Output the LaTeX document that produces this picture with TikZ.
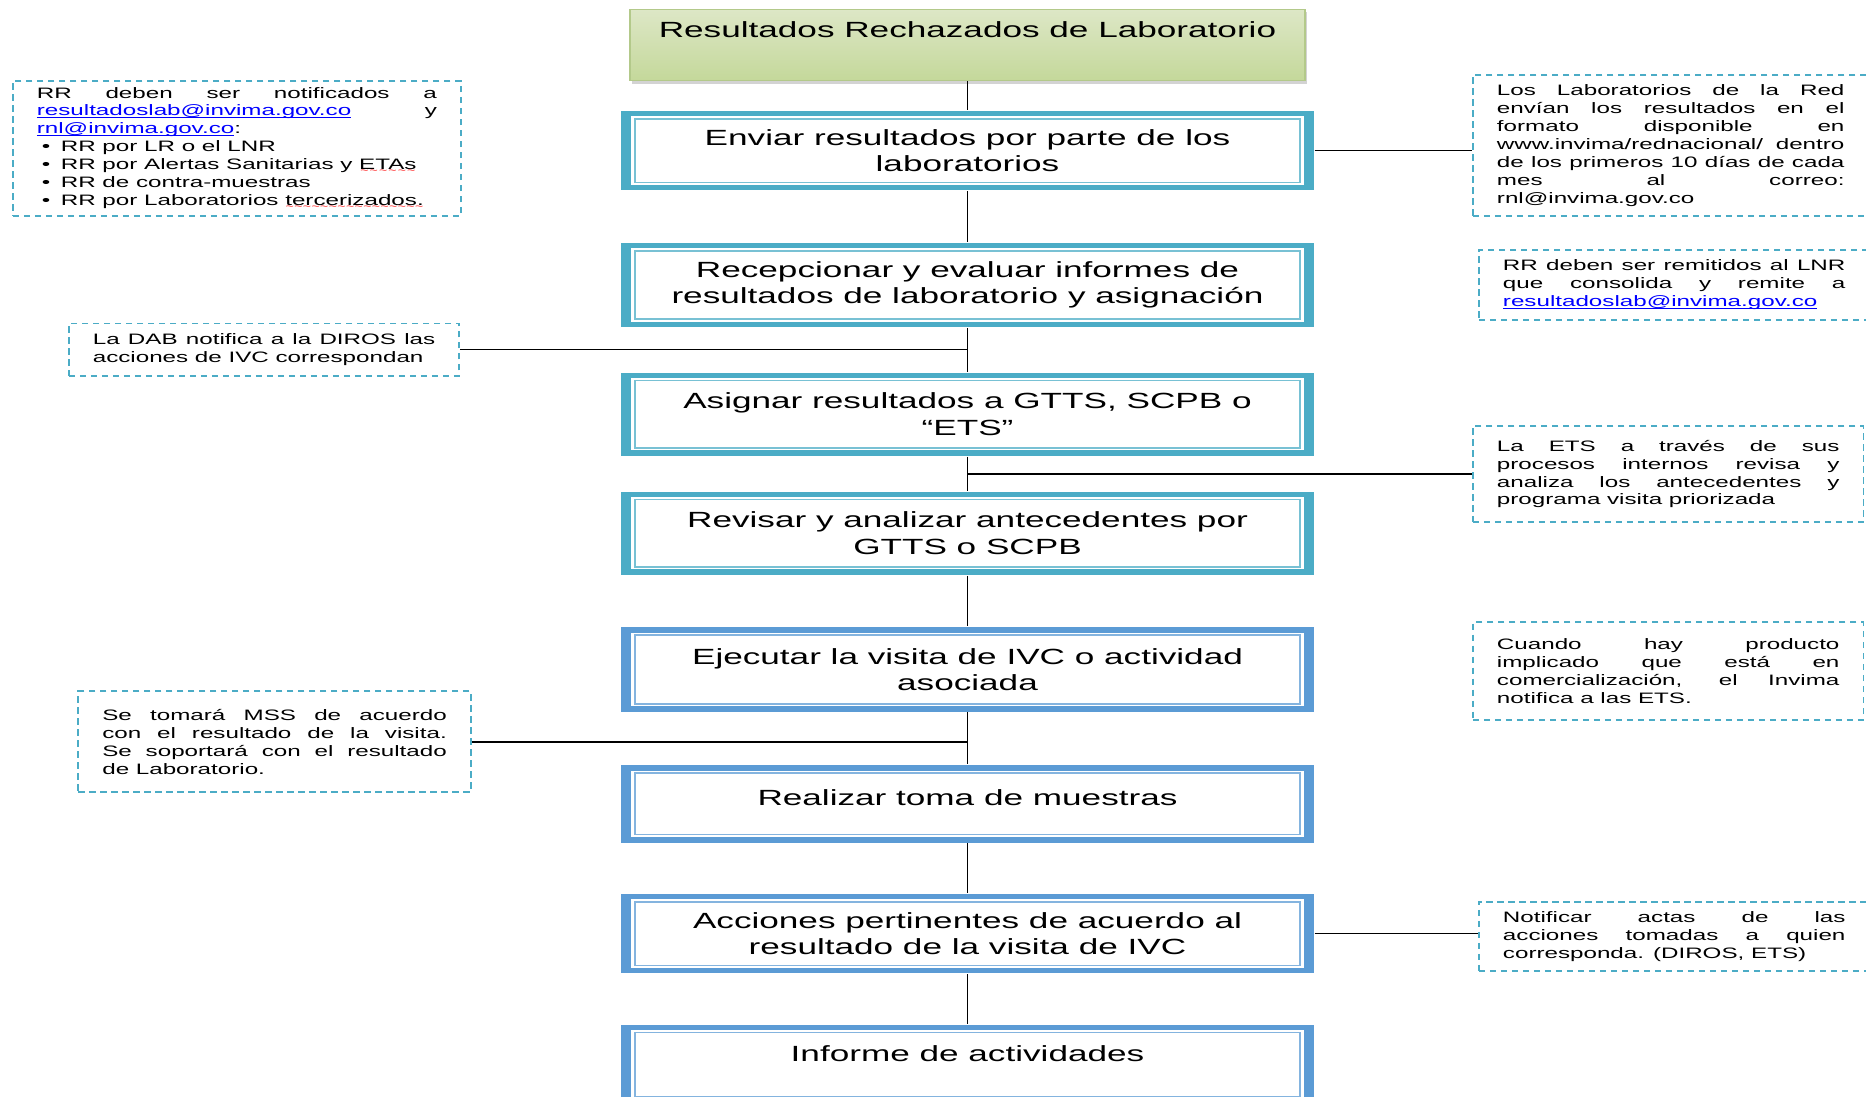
\documentclass[tikz,border=0pt]{standalone}
\usepackage{fontspec}
\setmainfont{Liberation Sans}
\newfontfamily\stepfont{Liberation Sans}[FakeStretch=1.6]
\usetikzlibrary{shadows}

\definecolor{tealbox}{HTML}{4BACC6}
\definecolor{bluebox}{HTML}{5B9BD5}
\definecolor{linkblue}{HTML}{0000FF}
\definecolor{greentop}{HTML}{DDE7C6}
\definecolor{greenmid}{HTML}{EAF0DC}
\definecolor{greenbot}{HTML}{C4D89A}
\definecolor{greenline}{HTML}{B3C98A}

\newcommand\redwave[1]{\setbox0\hbox{#1}\rlap{\lower2.4pt\hbox to \wd0{\color{red}\fontsize{5}{5}\selectfont\xleaders\hbox{\char"007E}\hfil}}\box0\relax}
\newcommand\maillink[1]{\setbox0\hbox{\textcolor{linkblue}{#1}}\rlap{\color{linkblue}\rule[-1.3pt]{\wd0}{0.5pt}}\box0\relax}
\newcommand\bul{\makebox[0.48cm][l]{\hspace{0.1cm}\textbullet}}

\tikzset{
  stepbox/.style={fill=#1, minimum width=13.85cm, minimum height=1.62cm, inner sep=0.1cm, align=center,
    font={\stepfont\fontsize{12.5}{14.9}\selectfont},
    path picture={
      \fill[white] ([shift={(0.2,-0.11)}]path picture bounding box.north west) rectangle ([shift={(-0.2,0.11)}]path picture bounding box.south east);
      \draw[#1!75, line width=1pt] ([shift={(0.28,-0.16)}]path picture bounding box.north west) rectangle ([shift={(-0.28,0.16)}]path picture bounding box.south east);
    }},
  titlebox/.style={draw=greenline, line width=0.6pt, top color=greentop, middle color=greenmid, bottom color=greenbot,
    drop shadow={shadow xshift=0.03cm, shadow yshift=-0.06cm, opacity=0.35},
    minimum width=13.5cm, minimum height=1.43cm, text depth=0.62cm,
    font={\stepfont\fontsize{12.5}{14.9}\selectfont}},
  notebox/.style={draw=tealbox, dash pattern=on 0.13cm off 0.09cm, line width=1.1pt, anchor=north west,
    inner xsep=0.48cm, inner ysep=0.06cm, align=justify, text width=6.85cm,
    font={\stepfont\fontsize{8.6}{10.2}\selectfont\hyphenpenalty=10000\exhyphenpenalty=10000\tolerance=10000}}
}

\begin{document}
\begin{tikzpicture}[line width=0.9pt]
  \useasboundingbox (0,0) rectangle (37.32,-21.94);

  \node[titlebox] (titulo) at (19.35,-0.904) {Resultados Rechazados de Laboratorio};
  \node[stepbox=tealbox, minimum height=1.595cm] (enviar) at (19.35,-3.011) {Enviar resultados por parte de los\\laboratorios};
  \node[stepbox=tealbox, minimum height=1.69cm] (recepcionar) at (19.35,-5.700) {Recepcionar y evaluar informes de\\resultados de laboratorio y asignación};
  \node[stepbox=tealbox, minimum height=1.666cm] (asignar) at (19.35,-8.283) {Asignar resultados a GTTS, SCPB o\\“ETS”};
  \node[stepbox=tealbox, minimum height=1.666cm] (revisar) at (19.35,-10.663) {Revisar y analizar antecedentes por\\GTTS o SCPB};
  \node[stepbox=bluebox, minimum height=1.69cm] (ejecutar) at (19.35,-13.388) {Ejecutar la visita de IVC o actividad\\asociada};
  \node[stepbox=bluebox, minimum height=1.547cm, text depth=0.26cm] (toma) at (19.35,-16.078) {Realizar toma de muestras};
  \node[stepbox=bluebox, minimum height=1.595cm] (acciones) at (19.35,-18.672) {Acciones pertinentes de acuerdo al\\resultado de la visita de IVC};
  \node[stepbox=bluebox, minimum height=1.6cm, text depth=0.45cm] (informe) at (19.35,-21.29) {Informe de actividades};

  % notas laterales
  \node[notebox, text width=8.0cm, minimum height=2.71cm] (notaRR) at (0.238,-1.595)
    {RR deben ser notificados a\linebreak
     \maillink{resultadoslab@invima.gov.co} y\linebreak
     \maillink{rnl@invima.gov.co}:\\
     \bul RR por LR o el LNR\\
     \bul RR por Alertas Sanitarias y \redwave{ETAs}\\
     \bul RR de contra-muestras\\
     \bul RR por Laboratorios \redwave{tercerizados.}};
  \node[notebox, text width=6.95cm, minimum height=2.83cm] (notaLab) at (29.44,-1.476)
    {Los Laboratorios de la Red\linebreak envían los resultados en el\linebreak formato disponible en\linebreak
     www.invima/rednacional/ dentro\linebreak de los primeros 10 días de cada\linebreak mes al correo:\linebreak rnl@invima.gov.co};
  \node[notebox, minimum height=1.405cm] (notaLnr) at (29.56,-4.974)
    {RR deben ser remitidos al LNR\linebreak que consolida y remite a\linebreak \maillink{resultadoslab@invima.gov.co}};
  \node[notebox, minimum height=1.047cm] (notaDab) at (1.357,-6.450)
    {La DAB notifica a la DIROS las\linebreak acciones de IVC correspondan};
  \node[notebox, minimum height=1.93cm] (notaEts) at (29.44,-8.497)
    {La ETS a través de sus\linebreak procesos internos revisa y\linebreak analiza los antecedentes y\linebreak programa visita priorizada};
  \node[notebox, minimum height=1.95cm] (notaInvima) at (29.44,-12.424)
    {Cuando hay producto\linebreak implicado que está en\linebreak comercialización, el Invima\linebreak notifica a las ETS.};
  \node[notebox, text width=6.89cm, minimum height=2.02cm] (notaMss) at (1.547,-13.805)
    {Se tomará MSS de acuerdo\linebreak con el resultado de la visita.\linebreak Se soportará con el resultado\linebreak de Laboratorio.};
  \node[notebox, minimum height=1.38cm] (notaActas) at (29.56,-18.017)
    {Notificar actas de las\linebreak acciones tomadas a quien\linebreak corresponda. (DIROS, ETS)};

  \foreach \a/\b in {titulo/enviar, enviar/recepcionar, recepcionar/asignar, asignar/revisar,
                     revisar/ejecutar, ejecutar/toma, toma/acciones, acciones/informe}
    \draw (\a) -- (\b);

  \draw (enviar.east) -- (enviar.east -| notaLab.west);
  \draw (notaDab.east) -- (notaDab.east -| asignar.north);
  \draw (notaEts.west) -- (notaEts.west -| revisar.north);
  \draw (notaMss.east) -- (notaMss.east -| toma.north);
  \draw (acciones.east) -- (acciones.east -| notaActas.west);
\end{tikzpicture}
\end{document}
